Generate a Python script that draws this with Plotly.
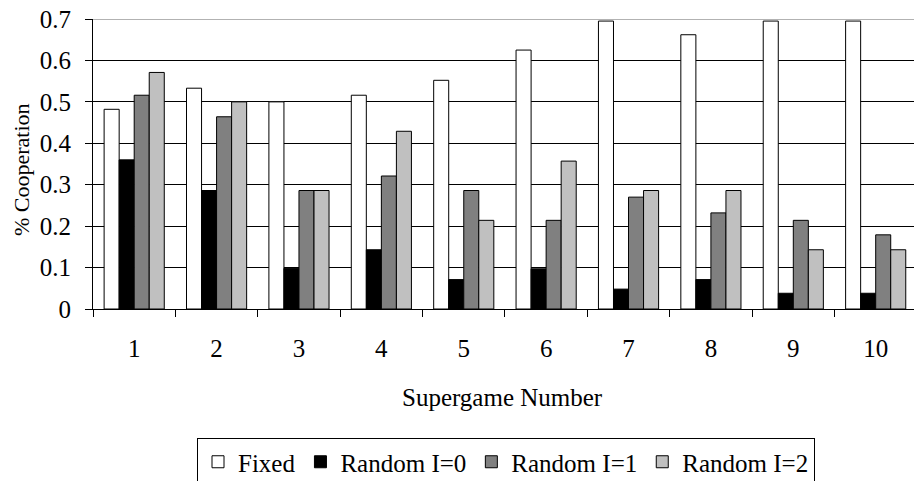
import plotly.graph_objects as go

categories = ["1", "2", "3", "4", "5", "6", "7", "8", "9", "10"]
fixed = [0.482, 0.533, 0.500, 0.516, 0.552, 0.625, 0.695, 0.662, 0.695, 0.695]
random_i0 = [0.360, 0.286, 0.098, 0.143, 0.071, 0.097, 0.048, 0.071, 0.038, 0.038]
random_i1 = [0.516, 0.464, 0.286, 0.321, 0.286, 0.214, 0.270, 0.232, 0.214, 0.179]
random_i2 = [0.571, 0.500, 0.286, 0.429, 0.214, 0.357, 0.286, 0.286, 0.143, 0.143]
series_names = ["Fixed", "Random I=0", "Random I=1", "Random I=2"]
series_colors = ["#ffffff", "#000000", "#808080", "#c0c0c0"]
y_ticks = [0, 0.1, 0.2, 0.3, 0.4, 0.5, 0.6, 0.7]
y_tick_labels = ["0", "0.1", "0.2", "0.3", "0.4", "0.5", "0.6", "0.7"]

FONT = "Liberation Serif, Times New Roman, serif"

fig = go.Figure()
for name, vals, col in zip(series_names, [fixed, random_i0, random_i1, random_i2], series_colors):
    fig.add_trace(go.Bar(
        x=categories, y=vals, name=name,
        marker=dict(color=col, line=dict(color="#000000", width=1)),
    ))

W, H = 914, 481
L, R, T, B = 93, 0, 19, 172
pw = W - L - R
ph = H - T - B

def px_x(p):
    return (p - L) / pw

def px_y(p):
    return (H - B - p) / ph

fig.update_layout(
    width=W, height=H,
    margin=dict(l=L, r=R, t=T, b=B, pad=0, autoexpand=False),
    paper_bgcolor="white", plot_bgcolor="white",
    font=dict(family=FONT, size=25, color="black"),
    barmode="group", bargap=0.27, bargroupgap=0,
    showlegend=True,
    legend=dict(
        orientation="h", x=px_x(506), y=px_y(438), xanchor="center", yanchor="top",
        bordercolor="#000000", borderwidth=1, bgcolor="white",
        font=dict(family=FONT, size=25, color="black"),
        itemwidth=30, tracegroupgap=0,
    ),
    xaxis=dict(
        type="category", range=[-0.5, 9.465],
        tickson="boundaries", ticks="outside", ticklen=7, tickcolor="black",
        showline=True, linecolor="black", linewidth=1,
        showgrid=False, zeroline=False,
        tickfont=dict(family=FONT, size=25, color="black"),
        ticklabelstandoff=17,
    ),
    yaxis=dict(
        range=[0, 0.7], tickvals=y_ticks, ticktext=y_tick_labels,
        ticks="outside", ticklen=7, tickcolor="black",
        showline=True, linecolor="black", linewidth=1,
        showgrid=True, gridcolor="black", gridwidth=1, zeroline=False,
        tickfont=dict(family=FONT, size=25, color="black"),
        ticklabelstandoff=9,
    ),
    annotations=[
        dict(text="Supergame Number", xref="paper", yref="paper",
             x=px_x(502), y=px_y(397), xanchor="center", yanchor="middle",
             showarrow=False, font=dict(family=FONT, size=25, color="black")),
        dict(text="% Cooperation", xref="paper", yref="paper",
             x=px_x(21), y=px_y(170), xanchor="center", yanchor="middle",
             textangle=-90, showarrow=False,
             font=dict(family=FONT, size=22, color="black")),
    ],
    shapes=[
        dict(type="line", xref="paper", yref="y", x0=0, x1=1, y0=0.7, y1=0.7,
             line=dict(color="#999999", width=1.5), layer="below"),
    ],
)

fig.write_html(
    "out.html",
    config={"displayModeBar": False},
    post_script="document.body.style.margin='0';document.body.style.padding='0';",
)
